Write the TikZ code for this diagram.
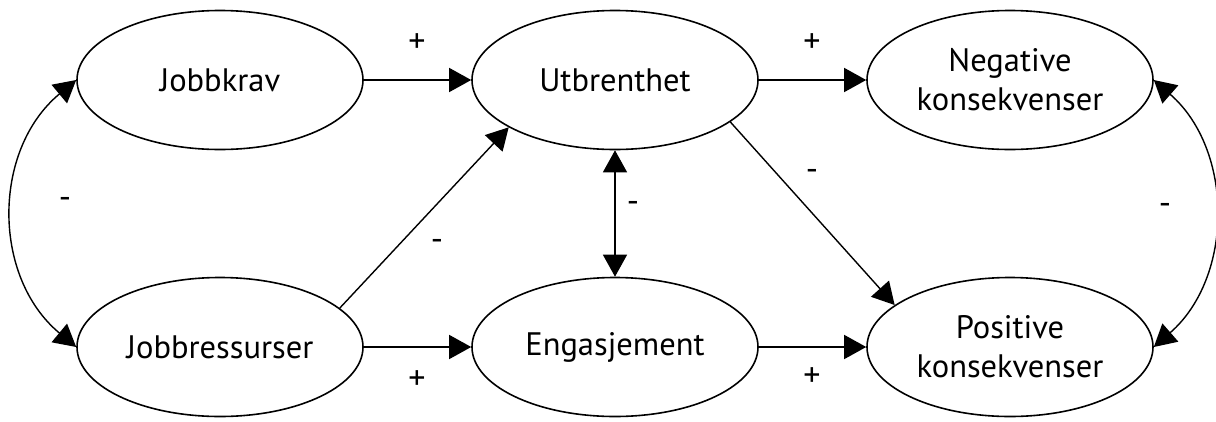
\documentclass[tikz,border=0pt]{standalone}
\usepackage{fontspec}
\setmainfont{PT Sans}
\usetikzlibrary{shapes.geometric,arrows.meta}
\begin{document}
\begin{tikzpicture}[x=1pt,y=-1pt,
  box/.style={draw,ellipse,line width=1.6pt,minimum width=286pt,minimum height=139pt,inner sep=0pt,align=center,font=\fontsize{32.5}{39}\selectfont},
  arr/.style={line width=1.4pt,-{Triangle[length=22pt,width=24pt]}},
  darr/.style={line width=1.4pt,{Triangle[length=22pt,width=24pt]}-{Triangle[length=22pt,width=24pt]}},
  lab/.style={font=\fontsize{34}{36}\selectfont,inner sep=0pt}]
\useasboundingbox (0,0) rectangle (1216,421);
\node[box] (jk) at (220,80) {Jobbkrav};
\node[box] (ut) at (615,80) {Utbrenthet};
\node[box] (neg) at (1010,80) {Negative\\konsekvenser};
\node[box] (jr) at (220,347) {Jobbressurser};
\node[box] (en) at (615,347) {Engasjement};
\node[box] (pos) at (1010,347) {Positive\\konsekvenser};
\draw[arr] (jk) -- (ut);
\draw[arr] (ut) -- (neg);
\draw[arr] (jr) -- (en);
\draw[arr] (en) -- (pos);
\draw[arr] (jr.18) -- (ut.204);
\draw[arr] (ut.-20) -- (pos.160);
\draw[darr] (ut) -- (en);
\draw[darr] (jk.west) .. controls (-8,150) and (-8,277) .. (jr.west);
\draw[darr] (neg.east) .. controls (1234,150) and (1234,277) .. (pos.east);
\node[lab] (l1) at (417,43) {+};
\node[lab] (l2) at (812,43) {+};
\node[lab] (l3) at (417,380) {+};
\node[lab] (l4) at (812,377) {+};
\node[lab] (l5) at (65,203) {-};
\node[lab] (l6) at (437,245) {-};
\node[lab] (l7) at (633,207) {-};
\node[lab] (l8) at (812,175) {-};
\node[lab] (l9) at (1165,209) {-};
\end{tikzpicture}
\end{document}
